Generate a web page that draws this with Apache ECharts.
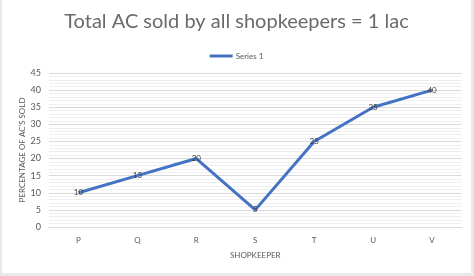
<!DOCTYPE html>
<html><head><meta charset="utf-8">
<script src="https://cdn.jsdelivr.net/npm/echarts@6/dist/echarts.min.js"></script>
<style>
html,body{margin:0;padding:0;background:#e9e9e9;width:474px;height:276px;overflow:hidden}
#c{position:absolute;left:2px;top:0;width:469px;height:273px;background:#fff}
</style></head><body><div id="c"></div>
<script>
const categories = ['P','Q','R','S','T','U','V'];
const values = [10,15,20,5,25,35,40];
const yTicks = {min:0, max:45, interval:5};
const titleText = 'Total AC sold by all shopkeepers = 1 lac';
const seriesName = 'Series 1';
const xName = 'SHOPKEEPER';
const yName = "PERCENTAGE OF AC'S SOLD";

const chart = echarts.init(document.getElementById('c'));
chart.setOption({
  animation:false,
  textStyle:{fontFamily:'Lato'},
  title:{text:titleText,left:'center',top:7,textStyle:{fontFamily:'Lato',fontSize:20,fontWeight:'normal',color:'#6a6a6a'}},
  legend:{top:47,left:'center',itemWidth:23,itemHeight:3,itemGap:4,icon:'rect',
    textStyle:{fontFamily:'Lato',fontSize:8,color:'#595959',padding:[0,0,0,-2]},data:[seriesName]},
  grid:{left:47,right:9.5,top:73,bottom:46},
  xAxis:{type:'category',data:categories,boundaryGap:true,
    name:xName,nameLocation:'middle',nameGap:24,nameMoveOverlap:false,nameTextStyle:{fontSize:8,color:'#595959'},
    axisLine:{lineStyle:{color:'#d9d9d9'}},axisTick:{show:false},
    axisLabel:{fontSize:8,color:'#595959',margin:9}},
  yAxis:{type:'value',min:yTicks.min,max:yTicks.max,interval:yTicks.interval,
    name:yName,nameLocation:'middle',nameGap:23,nameMoveOverlap:false,nameTextStyle:{fontSize:8,color:'#595959'},
    axisLine:{show:false},axisTick:{show:false},
    axisLabel:{fontSize:9,color:'#595959',margin:8},
    splitLine:{lineStyle:{color:'#d9d9d9'}},
    minorTick:{show:false,splitNumber:5},
    minorSplitLine:{show:true,lineStyle:{color:'#efefef'}}},
  series:[{name:seriesName,type:'line',data:values,symbol:'circle',symbolSize:0.01,
    lineStyle:{color:'#4472c4',width:3},itemStyle:{color:'#4472c4'},
    label:{show:true,position:'inside',fontSize:8,color:'#404040',fontFamily:'Lato'}}]
});
</script></body></html>
